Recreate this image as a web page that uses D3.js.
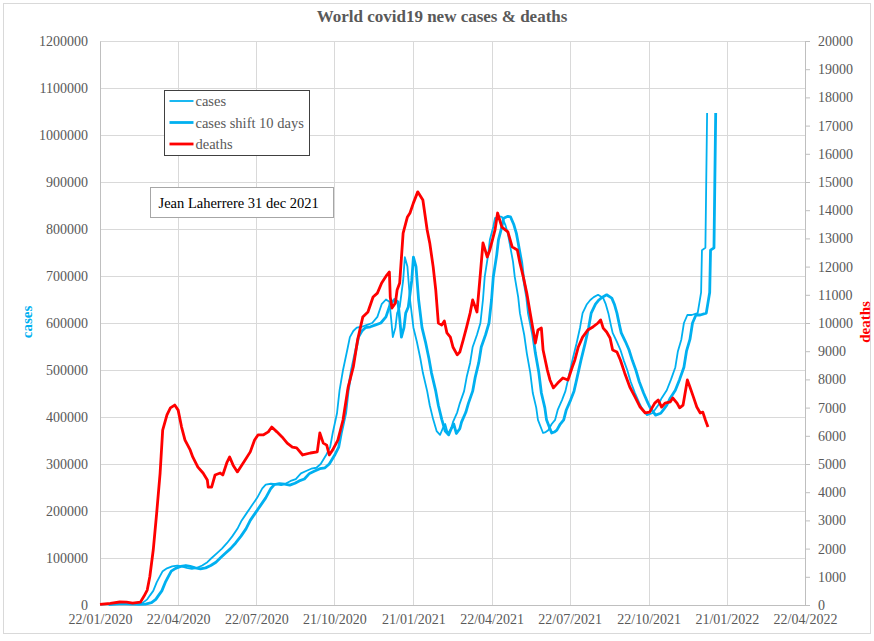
<!DOCTYPE html>
<html>
<head>
<meta charset="utf-8">
<script src="https://cdn.jsdelivr.net/npm/d3@7"></script>
<style>
  body { margin: 0; background: #fff; }
  svg text { font-family: 'Liberation Serif', 'Times New Roman', serif; }
</style>
</head>
<body>
<div id="chart"></div>
<script>
// daily new cases, 7 day average
const caseDates = [
  '2020-01-22', '2020-02-03', '2020-02-14', '2020-02-26', '2020-03-05', '2020-03-12', '2020-03-17', '2020-03-20',
  '2020-03-24', '2020-03-28', '2020-04-01', '2020-04-04', '2020-04-09', '2020-04-15', '2020-04-21', '2020-04-26',
  '2020-05-02', '2020-05-08', '2020-05-14', '2020-05-20', '2020-05-26', '2020-05-31', '2020-06-06', '2020-06-12',
  '2020-06-18', '2020-06-24', '2020-06-30', '2020-07-05', '2020-07-11', '2020-07-17', '2020-07-23', '2020-07-29',
  '2020-08-02', '2020-08-08', '2020-08-14', '2020-08-20', '2020-08-26', '2020-08-31', '2020-09-06', '2020-09-12',
  '2020-09-18', '2020-09-24', '2020-09-30', '2020-10-05', '2020-10-11', '2020-10-16', '2020-10-19', '2020-10-24',
  '2020-10-27', '2020-10-31', '2020-11-05', '2020-11-08', '2020-11-12', '2020-11-16', '2020-11-22', '2020-11-28',
  '2020-12-04', '2020-12-10', '2020-12-15', '2020-12-20', '2020-12-24', '2020-12-26', '2020-12-28', '2020-12-31',
  '2021-01-02', '2021-01-05', '2021-01-09', '2021-01-11', '2021-01-14', '2021-01-17', '2021-01-21', '2021-01-25',
  '2021-01-29', '2021-02-01', '2021-02-06', '2021-02-09', '2021-02-13', '2021-02-17', '2021-02-21', '2021-02-24',
  '2021-02-27', '2021-03-02', '2021-03-06', '2021-03-08', '2021-03-13', '2021-03-16', '2021-03-21', '2021-03-24',
  '2021-03-28', '2021-03-31', '2021-04-05', '2021-04-09', '2021-04-12', '2021-04-14', '2021-04-18', '2021-04-20',
  '2021-04-24', '2021-04-26', '2021-05-01', '2021-05-04', '2021-05-08', '2021-05-11', '2021-05-13', '2021-05-17',
  '2021-05-19', '2021-05-23', '2021-05-25', '2021-05-30', '2021-06-02', '2021-06-06', '2021-06-09', '2021-06-13',
  '2021-06-15', '2021-06-19', '2021-06-21', '2021-06-24', '2021-06-27', '2021-07-01', '2021-07-05', '2021-07-08',
  '2021-07-13', '2021-07-17', '2021-07-20', '2021-07-25', '2021-07-30', '2021-08-03', '2021-08-06', '2021-08-11',
  '2021-08-15', '2021-08-19', '2021-08-24', '2021-08-30', '2021-09-02', '2021-09-05', '2021-09-08', '2021-09-10',
  '2021-09-15', '2021-09-19', '2021-09-23', '2021-09-27', '2021-10-01', '2021-10-06', '2021-10-11', '2021-10-14',
  '2021-10-20', '2021-10-26', '2021-10-29', '2021-11-02', '2021-11-06', '2021-11-12', '2021-11-17', '2021-11-22',
  '2021-11-25', '2021-11-29', '2021-12-02', '2021-12-06', '2021-12-11', '2021-12-18', '2021-12-22', '2021-12-23',
  '2021-12-27', '2021-12-29'
]
const caseValues = [
  600, 2500, 2500, 1500, 2000, 5000, 12000, 20000,
  30000, 48000, 62000, 72000, 78000, 82000, 84000, 82000,
  79000, 77000, 79000, 84000, 91000, 100000, 110000, 120000,
  132000, 146000, 162000, 180000, 196000, 212000, 228000, 248000,
  256000, 258000, 257000, 255000, 259000, 264000, 268000, 280000,
  285000, 290000, 292000, 300000, 318000, 336000, 366000, 408000,
  457000, 500000, 543000, 570000, 583000, 590000, 592000, 596000,
  600000, 613000, 640000, 650000, 645000, 610000, 570000, 590000,
  621000, 634000, 690000, 740000, 720000, 650000, 590000, 560000,
  525000, 494000, 455000, 425000, 395000, 370000, 362000, 375000,
  385000, 365000, 375000, 389000, 410000, 429000, 455000, 485000,
  515000, 549000, 575000, 600000, 650000, 698000, 745000, 777000,
  805000, 823000, 827000, 826000, 809000, 790000, 770000, 730000,
  698000, 655000, 621000, 575000, 536000, 495000, 451000, 420000,
  394000, 375000, 366000, 368000, 372000, 385000, 394000, 415000,
  436000, 455000, 479000, 520000, 557000, 590000, 621000, 640000,
  649000, 655000, 660000, 653000, 640000, 621000, 595000, 579000,
  560000, 543000, 520000, 500000, 475000, 451000, 430000, 419000,
  404000, 408000, 415000, 425000, 440000, 457000, 480000, 506000,
  540000, 565000, 600000, 617000, 617000, 621000, 665000, 755000,
  760000, 1047000
]
const shiftDays = 10

// daily deaths, 7 day average (right axis)
const deathDates = [
  '2020-01-22', '2020-02-03', '2020-02-14', '2020-02-22', '2020-02-29', '2020-03-09', '2020-03-13', '2020-03-17',
  '2020-03-20', '2020-03-24', '2020-03-28', '2020-04-01', '2020-04-04', '2020-04-09', '2020-04-13', '2020-04-18',
  '2020-04-22', '2020-04-26', '2020-04-30', '2020-05-06', '2020-05-09', '2020-05-15', '2020-05-21', '2020-05-26',
  '2020-05-27', '2020-05-31', '2020-06-04', '2020-06-10', '2020-06-13', '2020-06-18', '2020-06-21', '2020-06-25',
  '2020-06-30', '2020-07-03', '2020-07-09', '2020-07-15', '2020-07-20', '2020-07-24', '2020-07-30', '2020-08-05',
  '2020-08-09', '2020-08-15', '2020-08-21', '2020-08-27', '2020-09-02', '2020-09-07', '2020-09-14', '2020-09-23',
  '2020-10-01', '2020-10-04', '2020-10-08', '2020-10-12', '2020-10-15', '2020-10-19', '2020-10-25', '2020-10-31',
  '2020-11-06', '2020-11-12', '2020-11-17', '2020-11-23', '2020-11-29', '2020-12-05', '2020-12-10', '2020-12-15',
  '2020-12-21', '2020-12-24', '2020-12-25', '2020-12-27', '2020-12-31', '2021-01-02', '2021-01-05', '2021-01-09',
  '2021-01-14', '2021-01-17', '2021-01-21', '2021-01-26', '2021-02-01', '2021-02-06', '2021-02-09', '2021-02-13',
  '2021-02-16', '2021-02-19', '2021-02-23', '2021-02-26', '2021-03-01', '2021-03-05', '2021-03-08', '2021-03-13',
  '2021-03-16', '2021-03-20', '2021-03-24', '2021-03-28', '2021-03-31', '2021-04-05', '2021-04-09', '2021-04-12',
  '2021-04-17', '2021-04-20', '2021-04-26', '2021-04-29', '2021-05-04', '2021-05-08', '2021-05-11', '2021-05-16',
  '2021-05-22', '2021-05-25', '2021-05-29', '2021-06-02', '2021-06-06', '2021-06-12', '2021-06-15', '2021-06-19',
  '2021-06-21', '2021-06-26', '2021-06-29', '2021-07-03', '2021-07-08', '2021-07-14', '2021-07-20', '2021-07-25',
  '2021-07-28', '2021-08-01', '2021-08-06', '2021-08-12', '2021-08-18', '2021-08-24', '2021-08-27', '2021-08-30',
  '2021-09-03', '2021-09-07', '2021-09-10', '2021-09-15', '2021-09-19', '2021-09-24', '2021-09-30', '2021-10-06',
  '2021-10-12', '2021-10-18', '2021-10-23', '2021-10-29', '2021-11-02', '2021-11-06', '2021-11-10', '2021-11-16',
  '2021-11-19', '2021-11-24', '2021-11-27', '2021-12-01', '2021-12-06', '2021-12-09', '2021-12-13', '2021-12-17',
  '2021-12-21', '2021-12-24', '2021-12-27', '2021-12-30'
]
const deathValues = [
  20, 60, 106, 100, 70, 100, 300, 530,
  1000, 1950, 3260, 4680, 6200, 6740, 6990, 7090,
  6910, 6310, 5850, 5500, 5250, 4890, 4680, 4430,
  4180, 4180, 4610, 4680, 4610, 5070, 5250, 4960,
  4720, 4860, 5140, 5430, 5850, 6030, 6030, 6140,
  6310, 6140, 5960, 5740, 5600, 5570, 5320, 5390,
  5430, 6100, 5740, 5670, 5320, 5500, 5850, 6560,
  7730, 8440, 9400, 10210, 10390, 10920, 11060, 11420,
  11700, 11810, 10920, 10530, 10710, 11170, 11420, 13190,
  13760, 13900, 14260, 14650, 14360, 13300, 12840, 11990,
  11170, 10000, 9930, 10070, 9650, 9500, 9150, 8870,
  8970, 9400, 9860, 10350, 10820, 10390, 11770, 12840,
  12340, 12590, 13300, 13900, 13400, 13300, 13230, 12700,
  12590, 12130, 11630, 11060, 10350, 9290, 9750, 9820,
  9040, 8330, 7980, 7700, 7870, 8050, 7980, 8440,
  8690, 9150, 9500, 9750, 9860, 10000, 10110, 9820,
  9680, 9470, 9040, 8970, 8690, 8230, 7730, 7380,
  7020, 6810, 6840, 7160, 7270, 7020, 7160, 7200,
  7340, 7160, 6990, 7090, 7980, 7730, 7380, 7020,
  6810, 6840, 6560, 6310
]

const xTickDates = ['2020-01-22', '2020-04-22', '2020-07-22', '2020-10-21', '2021-01-21',
  '2021-04-22', '2021-07-22', '2021-10-22', '2022-01-21', '2022-04-22']
const caseTicks = [0, 100000, 200000, 300000, 400000, 500000, 600000, 700000, 800000,
  900000, 1000000, 1100000, 1200000]
const deathTicks = [0, 1000, 2000, 3000, 4000, 5000, 6000, 7000, 8000, 9000, 10000,
  11000, 12000, 13000, 14000, 15000, 16000, 17000, 18000, 19000, 20000]

const width = 874
const height = 641
const plot = { left: 100, right: 805, top: 41, bottom: 605 }
const blue = '#00b0f0'
const red = '#ff0000'
const grey = '#595959'
const gridColor = '#d9d9d9'

const parse = d3.timeParse('%Y-%m-%d')
const cases = caseDates.map((d, i) => ({ date: parse(d), value: caseValues[i] }))
const casesShifted = cases.map(d => ({ date: d3.timeDay.offset(d.date, shiftDays), value: d.value }))
const deaths = deathDates.map((d, i) => ({ date: parse(d), value: deathValues[i] }))
const xTicks = xTickDates.map(parse)

const svg = d3.select('#chart')
  .append('svg')
  .attr('width', width)
  .attr('height', height)

svg.append('rect')
  .attr('x', 3.5).attr('y', 3.5)
  .attr('width', 867).attr('height', 630)
  .attr('fill', '#fff')
  .attr('stroke', gridColor)

const x = d3.scaleTime()
  .domain([xTicks[0], xTicks[xTicks.length - 1]])
  .range([plot.left, plot.right])
const yCases = d3.scaleLinear()
  .domain([0, 1200000])
  .range([plot.bottom, plot.top])
const yDeaths = d3.scaleLinear()
  .domain([0, 20000])
  .range([plot.bottom, plot.top])

// grid
const grid = svg.append('g').attr('stroke', gridColor).attr('stroke-width', 1)
grid.selectAll('.h')
  .data(caseTicks)
  .join('line')
  .attr('x1', plot.left).attr('x2', plot.right)
  .attr('y1', d => Math.round(yCases(d)) + 0.5)
  .attr('y2', d => Math.round(yCases(d)) + 0.5)
grid.selectAll('.v')
  .data(xTicks)
  .join('line')
  .attr('x1', d => Math.round(x(d)) + 0.5)
  .attr('x2', d => Math.round(x(d)) + 0.5)
  .attr('y1', plot.top).attr('y2', plot.bottom)

// axes
const styleAxis = g => {
  g.select('.domain').attr('stroke', '#bfbfbf')
  g.selectAll('.tick line').attr('stroke', '#bfbfbf')
  g.selectAll('.tick text')
    .attr('fill', grey)
    .style('font-size', '14px')
    .style('font-family', "'Liberation Serif', serif")
}

svg.append('g')
  .attr('transform', `translate(${plot.left},0)`)
  .call(d3.axisLeft(yCases).tickValues(caseTicks).tickSize(0).tickPadding(12).tickFormat(d3.format('d')))
  .call(styleAxis)

svg.append('g')
  .attr('transform', `translate(${plot.right},0)`)
  .call(d3.axisRight(yDeaths).tickValues(deathTicks).tickSize(5).tickSizeOuter(0).tickPadding(8).tickFormat(d3.format('d')))
  .call(styleAxis)

svg.append('g')
  .attr('transform', `translate(0,${plot.bottom})`)
  .call(d3.axisBottom(x).tickValues(xTicks).tickSize(0).tickPadding(9).tickFormat(d3.timeFormat('%d/%m/%Y')))
  .call(styleAxis)

// series
const caseLine = d3.line().x(d => x(d.date)).y(d => yCases(d.value))
const deathLine = d3.line().x(d => x(d.date)).y(d => yDeaths(d.value))

svg.append('path')
  .datum(cases)
  .attr('fill', 'none')
  .attr('stroke', blue)
  .attr('stroke-width', 1.8)
  .attr('stroke-linejoin', 'round')
  .attr('d', caseLine)

svg.append('path')
  .datum(casesShifted)
  .attr('fill', 'none')
  .attr('stroke', blue)
  .attr('stroke-width', 2.8)
  .attr('stroke-linejoin', 'round')
  .attr('d', caseLine)

svg.append('path')
  .datum(deaths)
  .attr('fill', 'none')
  .attr('stroke', red)
  .attr('stroke-width', 2.8)
  .attr('stroke-linejoin', 'round')
  .attr('d', deathLine)

// title and axis titles
svg.append('text')
  .attr('x', 442).attr('y', 22)
  .attr('text-anchor', 'middle')
  .attr('fill', grey)
  .style('font-size', '17px')
  .style('font-weight', 'bold')
  .text('World covid19 new cases & deaths')

svg.append('text')
  .attr('transform', 'translate(32,322) rotate(-90)')
  .attr('text-anchor', 'middle')
  .attr('fill', blue)
  .style('font-size', '15px')
  .style('font-weight', 'bold')
  .text('cases')

svg.append('text')
  .attr('transform', 'translate(870,322) rotate(-90)')
  .attr('text-anchor', 'middle')
  .attr('fill', red)
  .style('font-size', '15px')
  .style('font-weight', 'bold')
  .text('deaths')

// legend
const legendItems = [
  { label: 'cases', color: blue, width: 1.8 },
  { label: 'cases shift 10 days', color: blue, width: 2.8 },
  { label: 'deaths', color: red, width: 2.8 }
]
const legend = svg.append('g').attr('transform', 'translate(164.5,90.5)')
legend.append('rect')
  .attr('width', 145).attr('height', 65)
  .attr('fill', '#fff')
  .attr('stroke', '#404040')
const rows = legend.selectAll('g.row')
  .data(legendItems)
  .join('g')
  .attr('transform', (d, i) => `translate(0,${10.5 + i * 21.5})`)
rows.append('line')
  .attr('x1', 5).attr('x2', 29)
  .attr('stroke', d => d.color)
  .attr('stroke-width', d => d.width)
rows.append('text')
  .attr('x', 31).attr('y', 5)
  .attr('fill', grey)
  .style('font-size', '14.5px')
  .text(d => d.label)

// author note
const note = svg.append('g').attr('transform', 'translate(150.5,187.5)')
note.append('rect')
  .attr('width', 183).attr('height', 30)
  .attr('fill', '#fff')
  .attr('stroke', '#a6a6a6')
note.append('text')
  .attr('x', 8).attr('y', 20)
  .attr('fill', '#000')
  .style('font-size', '14.5px')
  .text('Jean Laherrere 31 dec 2021')
</script>
</body>
</html>
